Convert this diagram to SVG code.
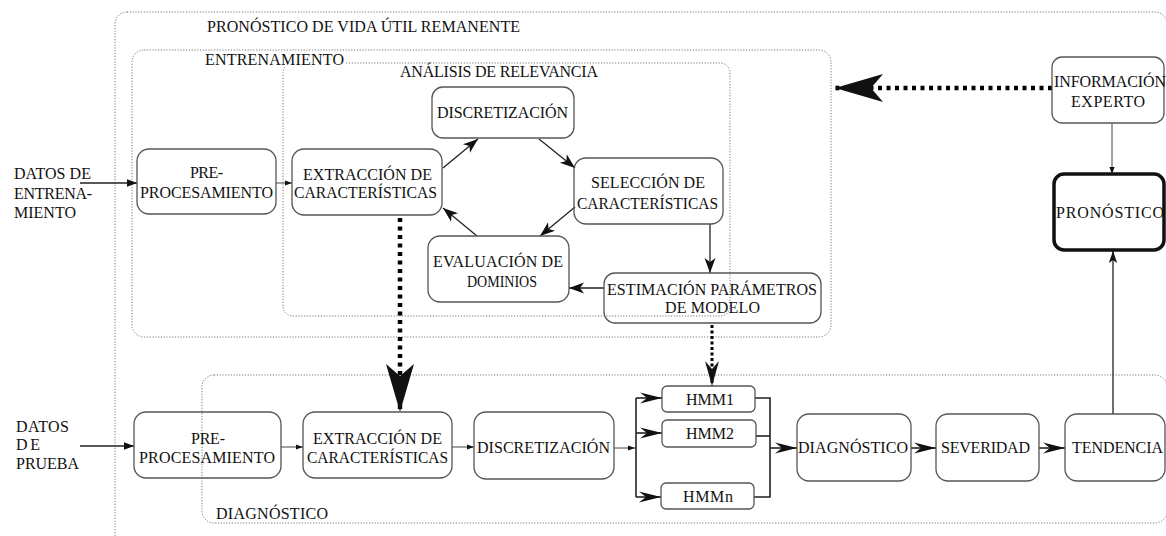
<svg xmlns="http://www.w3.org/2000/svg" width="1166" height="536" viewBox="0 0 1166 536">
<style>
text{font-family:"Liberation Serif","Times New Roman",serif;font-size:16px;fill:#111}
.grp{fill:none;stroke:#777;stroke-width:1;stroke-dasharray:1.2 1.6}
.node{fill:none;stroke:#555;stroke-width:1.3}
.thick{fill:none;stroke:#111;stroke-width:3.5}
.ln{fill:none;stroke:#222;stroke-width:1.3}
.thin{fill:none;stroke:#444;stroke-width:1}
.bus{fill:none;stroke:#222;stroke-width:1.6}
.dotbig{fill:none;stroke:#000;stroke-width:4.5;stroke-dasharray:4 4.5}
.dotmed{fill:none;stroke:#000;stroke-width:3;stroke-dasharray:3 2.5}
.ah{fill:#111}
</style>
<defs>
<marker id="m-tri" markerUnits="userSpaceOnUse" refX="0" refY="0" markerWidth="12" markerHeight="10" orient="auto" overflow="visible"><path class="ah" d="M0,0 L-10,-3.8 L-10,3.8 Z"/></marker>
<marker id="m-tiny" markerUnits="userSpaceOnUse" refX="0" refY="0" markerWidth="8" markerHeight="6" orient="auto" overflow="visible"><path class="ah" d="M0,0 L-7,-2.6 L-7,2.6 Z"/></marker>
<marker id="m-dart" markerUnits="userSpaceOnUse" refX="0" refY="0" markerWidth="16" markerHeight="12" orient="auto" overflow="visible"><path class="ah" d="M0,0 L-15,-5.5 L-11,0 L-15,5.5 Z"/></marker>
<marker id="m-long" markerUnits="userSpaceOnUse" refX="0" refY="0" markerWidth="24" markerHeight="12" orient="auto" overflow="visible"><path class="ah" d="M0,0 L-22,-5.5 L-15,0 L-22,5.5 Z"/></marker>
<marker id="m-med" markerUnits="userSpaceOnUse" refX="0" refY="0" markerWidth="26" markerHeight="16" orient="auto" overflow="visible"><path class="ah" d="M0,0 L-25,-7 L-17,0 L-25,7 Z"/></marker>
<marker id="m-big" markerUnits="userSpaceOnUse" refX="0" refY="0" markerWidth="50" markerHeight="30" orient="auto" overflow="visible"><path class="ah" d="M0,0 L-48,-14 L-36,0 L-48,14 Z"/></marker>
<marker id="m-up" markerUnits="userSpaceOnUse" refX="0" refY="0" markerWidth="14" markerHeight="10" orient="auto" overflow="visible"><path class="ah" d="M0,0 L-12,-4.2 L-9,0 L-12,4.2 Z"/></marker>
</defs>
<rect width="1166" height="536" fill="#fff"/>

<g id="groups">
<rect class="grp" x="115" y="12" width="1052" height="600" rx="12"/>
<text x="207" y="32" textLength="313" lengthAdjust="spacing">PRONÓSTICO DE VIDA ÚTIL REMANENTE</text>
<rect class="grp" x="132" y="50" width="699" height="287" rx="12"/>
<rect class="grp" x="283" y="63" width="447" height="253" rx="10"/>
<rect x="204" y="52" width="142" height="15" fill="#fff"/>
<text x="205" y="65" textLength="139" lengthAdjust="spacing">ENTRENAMIENTO</text>
<text x="400" y="77" textLength="198" lengthAdjust="spacing">ANÁLISIS DE RELEVANCIA</text>
<rect class="grp" x="202" y="375" width="965" height="148" rx="12"/>
<text x="216" y="519" textLength="112" lengthAdjust="spacing">DIAGNÓSTICO</text>
</g>

<g id="inputs">
<text x="14" y="179" textLength="77" lengthAdjust="spacing">DATOS DE</text>
<text x="14" y="199" textLength="78" lengthAdjust="spacing">ENTRENA-</text>
<text x="14" y="218" textLength="62" lengthAdjust="spacing">MIENTO</text>
<text x="16" y="432" textLength="53" lengthAdjust="spacing">DATOS</text>
<text x="16" y="450" textLength="24" lengthAdjust="spacing">DE</text>
<text x="16" y="469" textLength="63" lengthAdjust="spacing">PRUEBA</text>
</g>

<g id="connectors">
<line class="ln" x1="80" y1="183" x2="137" y2="183" marker-end="url(#m-tri)"/>
<line class="thin" x1="276" y1="183" x2="292" y2="183" marker-end="url(#m-tiny)"/>
<line class="ln" x1="443" y1="168" x2="478" y2="139" marker-end="url(#m-dart)"/>
<line class="ln" x1="539" y1="139" x2="575" y2="168" marker-end="url(#m-dart)"/>
<line class="ln" x1="575" y1="207" x2="540" y2="236" marker-end="url(#m-dart)"/>
<line class="ln" x1="477" y1="236" x2="443" y2="208" marker-end="url(#m-dart)"/>
<line class="ln" x1="710" y1="224" x2="710" y2="273" marker-end="url(#m-dart)"/>
<line class="ln" x1="604" y1="288" x2="569" y2="288" marker-end="url(#m-dart)"/>
<line class="dotbig" x1="400" y1="218" x2="400" y2="412" marker-end="url(#m-big)"/>
<line class="dotmed" x1="712" y1="325" x2="712" y2="386" marker-end="url(#m-med)"/>
<line class="dotbig" x1="1052" y1="88" x2="835" y2="88" marker-end="url(#m-big)"/>
<line class="thin" x1="1112" y1="123" x2="1112" y2="174" stroke="#777" marker-end="url(#m-tiny)"/>
<line class="ln" x1="1113" y1="414" x2="1113" y2="251" stroke="#444" marker-end="url(#m-up)"/>
<line class="ln" x1="80" y1="446" x2="134" y2="446" marker-end="url(#m-tri)"/>
<line class="thin" x1="281" y1="447" x2="303" y2="447" marker-end="url(#m-tiny)"/>
<line class="thin" x1="452" y1="447" x2="474" y2="447" marker-end="url(#m-tiny)"/>
<line class="thin" x1="614" y1="448" x2="635" y2="448" marker-end="url(#m-tiny)"/>
<line class="bus" x1="636" y1="398" x2="636" y2="497"/>
<line class="bus" x1="636" y1="398" x2="662" y2="398" marker-end="url(#m-long)"/>
<line class="bus" x1="636" y1="433" x2="662" y2="433" marker-end="url(#m-long)"/>
<line class="bus" x1="636" y1="497" x2="661" y2="497" marker-end="url(#m-long)"/>
<polyline class="bus" points="755,398 770,398 770,497 754,497"/>
<line class="bus" x1="756" y1="436" x2="770" y2="436"/>
<line class="bus" x1="770" y1="448" x2="797" y2="448" marker-end="url(#m-long)"/>
<line class="bus" x1="911" y1="448" x2="936" y2="448" marker-end="url(#m-long)"/>
<line class="bus" x1="1039" y1="448" x2="1065" y2="448" marker-end="url(#m-long)"/>
</g>

<g id="pre1"><rect class="node" x="137" y="149" width="139" height="65" rx="12"/>
<text x="190" y="178" textLength="33" lengthAdjust="spacing">PRE-</text>
<text x="140" y="198" textLength="133" lengthAdjust="spacing">PROCESAMIENTO</text></g>
<g id="ext1"><rect class="node" x="292" y="149" width="150" height="66" rx="12"/>
<text x="303" y="180" textLength="129" lengthAdjust="spacing">EXTRACCIÓN DE</text>
<text x="294" y="198" textLength="143" lengthAdjust="spacingAndGlyphs">CARACTERÍSTICAS</text></g>
<g id="disc1"><rect class="node" x="432" y="87" width="142" height="51" rx="11"/>
<text x="437" y="118" textLength="131" lengthAdjust="spacing">DISCRETIZACIÓN</text></g>
<g id="sel"><rect class="node" x="574" y="158" width="149" height="66" rx="12"/>
<text x="591" y="188" textLength="114" lengthAdjust="spacing">SELECCIÓN DE</text>
<text x="577" y="209" textLength="141" lengthAdjust="spacingAndGlyphs">CARACTERÍSTICAS</text></g>
<g id="eval"><rect class="node" x="428" y="236" width="141" height="66" rx="12"/>
<text x="433" y="267" textLength="130" lengthAdjust="spacing">EVALUACIÓN DE</text>
<text x="467" y="287" textLength="70" lengthAdjust="spacingAndGlyphs">DOMINIOS</text></g>
<g id="est"><rect class="node" x="604" y="273" width="217" height="50" rx="11"/>
<text x="607" y="295" textLength="210" lengthAdjust="spacing">ESTIMACIÓN PARÁMETROS</text>
<text x="665" y="313" textLength="95" lengthAdjust="spacing">DE MODELO</text></g>
<g id="info"><rect class="node" x="1052" y="57" width="112" height="66" rx="10" stroke="#777"/>
<text x="1054" y="87" textLength="112" lengthAdjust="spacing">INFORMACIÓN</text>
<text x="1071" y="107" textLength="74" lengthAdjust="spacing">EXPERTO</text></g>
<g id="pron"><rect class="thick" x="1054" y="174" width="110" height="76" rx="10"/>
<text x="1056" y="218" textLength="108" lengthAdjust="spacing">PRONÓSTICO</text></g>
<g id="pre2"><rect class="node" x="134" y="412" width="147" height="66" rx="12"/>
<text x="191" y="444" textLength="34" lengthAdjust="spacing">PRE-</text>
<text x="139" y="463" textLength="136" lengthAdjust="spacing">PROCESAMIENTO</text></g>
<g id="ext2"><rect class="node" x="303" y="412" width="149" height="66" rx="12"/>
<text x="313" y="444" textLength="129" lengthAdjust="spacing">EXTRACCIÓN DE</text>
<text x="307" y="463" textLength="141" lengthAdjust="spacingAndGlyphs">CARACTERÍSTICAS</text></g>
<g id="disc2"><rect class="node" x="474" y="412" width="140" height="67" rx="12"/>
<text x="477" y="453" textLength="133" lengthAdjust="spacing">DISCRETIZACIÓN</text></g>
<g id="hmm1"><rect class="node" x="662" y="386" width="93" height="26" rx="5" stroke="#777"/>
<text x="686" y="405" textLength="48" lengthAdjust="spacing">HMM1</text></g>
<g id="hmm2"><rect class="node" x="662" y="420" width="94" height="27" rx="5" stroke="#777"/>
<text x="686" y="439" textLength="48" lengthAdjust="spacing">HMM2</text></g>
<g id="hmmn"><rect class="node" x="661" y="483" width="93" height="26" rx="5" stroke="#777"/>
<text x="683" y="502" textLength="50" lengthAdjust="spacing">HMMn</text></g>
<g id="diag"><rect class="node" x="797" y="414" width="114" height="67" rx="12"/>
<text x="798" y="453" textLength="110" lengthAdjust="spacing">DIAGNÓSTICO</text></g>
<g id="sev"><rect class="node" x="936" y="414" width="103" height="67" rx="12"/>
<text x="941" y="453" textLength="89" lengthAdjust="spacing">SEVERIDAD</text></g>
<g id="tend"><rect class="node" x="1065" y="414" width="100" height="67" rx="12"/>
<text x="1072" y="453" textLength="91" lengthAdjust="spacing">TENDENCIA</text></g>
</svg>
